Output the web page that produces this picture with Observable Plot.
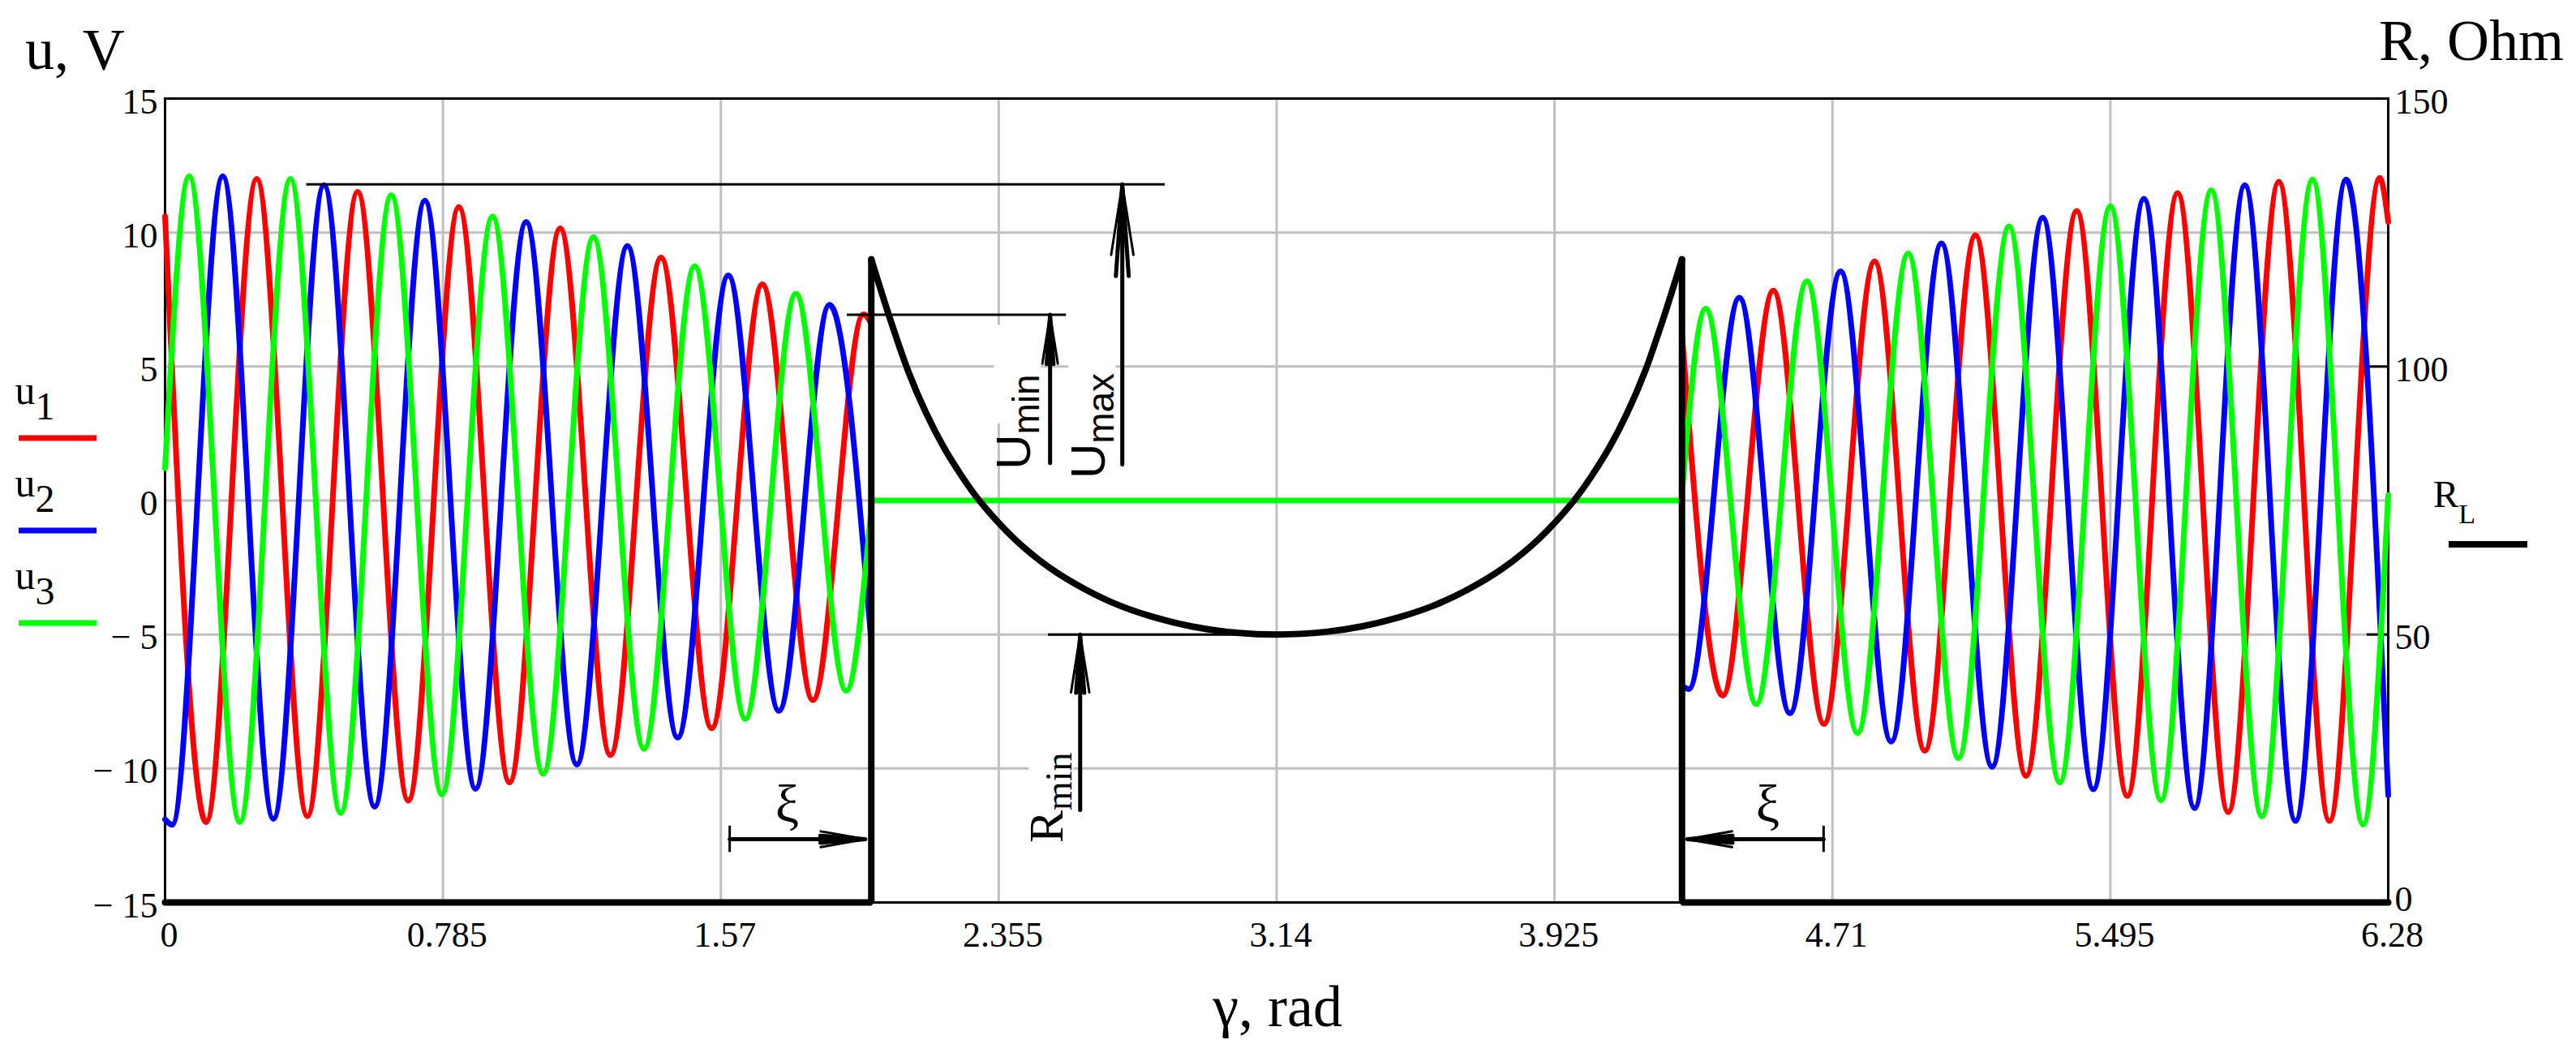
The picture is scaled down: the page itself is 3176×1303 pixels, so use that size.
<!DOCTYPE html>
<html>
<head>
<meta charset="utf-8">
<script src="https://cdn.jsdelivr.net/npm/d3@7"></script>
<script src="https://cdn.jsdelivr.net/npm/@observablehq/plot@0.6"></script>
<style>
  html, body { margin: 0; padding: 0; background: white; }
</style>
</head>
<body>
<div id="chart"></div>
<script>
// ---------- axis ticks ----------
const xTicks = [0, 0.785, 1.57, 2.355, 3.14, 3.925, 4.71, 5.495, 6.28];
const xTickLabels = ["0", "0.785", "1.57", "2.355", "3.14", "3.925", "4.71", "5.495", "6.28"];
const uTicks = [-15, -10, -5, 0, 5, 10, 15];
const uTickLabels = ["\u2212 15", "\u2212 10", "\u2212 5", "0", "5", "10", "15"];
const rTicks = [0, 50, 100, 150];
const rInnerTicks = [50, 100];

// ---------- u1 (red): extrema ----------
const redLeftG  = [0, 0.116, 0.259, 0.402, 0.544, 0.687, 0.830, 0.973, 1.116, 1.258, 1.401, 1.544, 1.687, 1.830, 1.973, 1.995];
const redLeftU  = [10.6, -12.0, 12.0, -11.78, 11.52, -11.2, 10.95, -10.52, 10.16, -9.5, 9.07, -8.5, 8.07, -7.45, 6.95, 6.6];
const redRightG = [4.285, 4.400, 4.543, 4.686, 4.829, 4.971, 5.114, 5.257, 5.400, 5.543, 5.685, 5.828, 5.971, 6.114, 6.256, 6.28];
const redRightU = [6.2, -7.28, 7.83, -8.34, 8.92, -9.34, 9.9, -10.28, 10.81, -11.03, 11.47, -11.63, 11.9, -11.96, 12.04, 10.4];

// ---------- u2 (blue) ----------
const blueLeftG  = [0, 0.020, 0.163, 0.306, 0.449, 0.592, 0.734, 0.877, 1.020, 1.163, 1.306, 1.448, 1.591, 1.734, 1.877, 1.995];
const blueLeftU  = [-11.9, -12.1, 12.1, -11.88, 11.77, -11.43, 11.19, -10.76, 10.4, -9.85, 9.5, -8.85, 8.4, -7.85, 7.3, -5.3];
const blueRightG = [4.285, 4.304, 4.447, 4.590, 4.733, 4.876, 5.018, 5.161, 5.304, 5.447, 5.590, 5.733, 5.875, 6.018, 6.161, 6.28];
const blueRightU = [-6.9, -7.04, 7.57, -7.94, 8.55, -9.0, 9.6, -9.94, 10.56, -10.78, 11.26, -11.48, 11.77, -11.96, 11.98, -11.0];

// ---------- u3 (green) ----------
const greenLeftG  = [0, 0.068, 0.211, 0.354, 0.496, 0.639, 0.782, 0.925, 1.068, 1.210, 1.353, 1.496, 1.639, 1.782, 1.924, 1.995];
const greenLeftU  = [1.2, 12.1, -12.0, 12.0, -11.66, 11.4, -10.97, 10.6, -10.2, 9.83, -9.27, 8.74, -8.15, 7.72, -7.1, -0.3];
const greenRightG = [4.285, 4.352, 4.495, 4.638, 4.781, 4.924, 5.066, 5.209, 5.352, 5.495, 5.638, 5.780, 5.923, 6.066, 6.209, 6.28];
const greenRightU = [0.3, 7.16, -7.6, 8.18, -8.68, 9.22, -9.61, 10.23, -10.52, 10.98, -11.19, 11.58, -11.79, 11.98, -12.09, 0.2];

// voltage is zero during the gap
const zeroG = [1.995, 4.285];
const zeroU = [0, 0];

// ---------- R_L (Ohm) ----------
const rLeftG  = [0, 1.995, 1.995];
const rLeftR  = [0, 0, 120];
const rRightG = [4.285, 4.285, 6.28];
const rRightR = [120, 0, 0];
const rCurveG = [1.995, 2.05, 2.10, 2.15, 2.20, 2.25, 2.30, 2.40, 2.50, 2.60, 2.70, 2.80, 2.90, 3.00, 3.14,
                 3.28, 3.38, 3.48, 3.58, 3.68, 3.78, 3.88, 3.98, 4.03, 4.08, 4.13, 4.18, 4.23, 4.285];
const rCurveR = [120, 108.5, 99.0, 91.3, 84.9, 79.6, 75.0, 67.8, 62.4, 58.4, 55.3, 53.1, 51.5, 50.5, 50,
                 50.5, 51.5, 53.1, 55.3, 58.4, 62.4, 67.8, 75.0, 79.6, 84.9, 91.3, 99.0, 108.5, 120];

// ---------- annotations (data units) ----------
const uMaxValue = [11.8];   const uMaxSpan = [0.40, 2.825];
const uMinValue = [6.93];   const uMinSpan = [1.927, 2.546];
const rMinValue = [50];     const rMinSpan = [2.495, 3.14];
const arrowG    = [2.704, 2.50, 2.585];       // Umax, Umin, Rmin arrows
const arrowFrom = [1.35, 1.4, -11.55];
const arrowTo   = [11.8, 6.93, -5.0];
const xiFrom  = [1.595, 4.685];
const xiTo    = [1.978, 4.300];
const xiLevel = -12.64;
const xiBarHalf = 0.49;
const xiTextG = [1.757, 4.527];
const xiTextU = -11.34;

// ---------- helpers ----------
const toU = r => r / 5 - 15;            // right axis (R, Ohm) onto the left axis (u, V)
const zip = (gs, us, seg) => gs.map((g, i) => ({g, u: us[i], seg}));

const redData   = [...zip(redLeftG, redLeftU, "L"), ...zip(redRightG, redRightU, "R")];
const blueData  = [...zip(blueLeftG, blueLeftU, "L"), ...zip(blueRightG, blueRightU, "R")];
const greenData = [...zip(greenLeftG, greenLeftU, "L"), ...zip(greenRightG, greenRightU, "R")];
const zeroData  = zip(zeroG, zeroU, "Z");
const rFlatData = [...zip(rLeftG, rLeftR.map(toU), "L"), ...zip(rRightG, rRightR.map(toU), "R")];
const rCurveData = zip(rCurveG, rCurveR.map(toU), "C");
const arrows = arrowG.map((g, i) => ({g, u1: arrowFrom[i], u2: arrowTo[i]}));
const xiArrows = xiFrom.map((g, i) => ({g1: g, g2: xiTo[i]}));

const SERIF = "'Liberation Serif','Times New Roman',serif";
const SANS = "'Liberation Sans',Arial,sans-serif";
const GRID = "#c0c0c0";
const rLabel = d => String(rTicks[rTicks.map(toU).indexOf(d)]);

const chart = Plot.plot({
  width: 3176,
  height: 1303,
  marginLeft: 203,
  marginRight: 232,
  marginTop: 121,
  marginBottom: 191,
  x: {domain: [0, 6.28], label: null},
  y: {domain: [-15, 15], label: null},
  style: {fontFamily: SERIF, fontSize: "44px", background: "white", overflow: "visible", color: "black"},
  marks: [
    Plot.ruleX(xTicks, {stroke: GRID, strokeWidth: 3}),
    Plot.ruleY(uTicks, {stroke: GRID, strokeWidth: 3}),
    Plot.frame({stroke: "black", strokeWidth: 3}),
    Plot.axisX({ticks: xTicks, tickFormat: d => xTickLabels[xTicks.indexOf(d)], tickSize: 0, tickPadding: 23, dx: 5, label: null}),
    Plot.axisY({ticks: uTicks, tickFormat: d => uTickLabels[uTicks.indexOf(d)], tickSize: 0, tickPadding: 9, dy: 4, label: null}),
    Plot.axisY({anchor: "right", ticks: rTicks.slice(1).map(toU), tickFormat: rLabel, tickSize: 0, tickPadding: 8, dy: 4, label: null}),
    Plot.axisY({anchor: "right", ticks: rTicks.slice(0, 1).map(toU), tickFormat: rLabel, tickSize: 0, tickPadding: 8, dy: -4, label: null}),
    Plot.ruleY(rInnerTicks.map(toU), {x1: 6.22, x2: 6.28, stroke: "black", strokeWidth: 3}),
    // phase voltages
    Plot.line(redData,   {x: "g", y: "u", z: "seg", stroke: "#ff0000", strokeWidth: 7, curve: "monotone-x"}),
    Plot.line(blueData,  {x: "g", y: "u", z: "seg", stroke: "#0000ff", strokeWidth: 7, curve: "monotone-x"}),
    Plot.line(greenData, {x: "g", y: "u", z: "seg", stroke: "#00ff00", strokeWidth: 7, curve: "monotone-x"}),
    Plot.line(zeroData,  {x: "g", y: "u", stroke: "#00ff00", strokeWidth: 7}),
    // load resistance
    Plot.line(rFlatData,  {x: "g", y: "u", z: "seg", stroke: "black", strokeWidth: 8, strokeLinejoin: "miter"}),
    Plot.line(rCurveData, {x: "g", y: "u", stroke: "black", strokeWidth: 8, curve: "catmull-rom"}),
    // dimension lines
    Plot.ruleY(uMaxValue, {x1: uMaxSpan[0], x2: uMaxSpan[1], stroke: "black", strokeWidth: 3}),
    Plot.ruleY(uMinValue, {x1: uMinSpan[0], x2: uMinSpan[1], stroke: "black", strokeWidth: 3}),
    Plot.ruleY(rMinValue.map(toU), {x1: rMinSpan[0], x2: rMinSpan[1], stroke: "black", strokeWidth: 3}),
    Plot.arrow(arrows, {x1: "g", x2: "g", y1: "u1", y2: "u2", stroke: "black", strokeWidth: 3, headLength: 44, headAngle: 18}),
    Plot.arrow(arrows, {x1: "g", x2: "g", y1: "u1", y2: "u2", stroke: "black", strokeWidth: 5, headLength: 34, headAngle: 8}),
    Plot.arrow(xiArrows, {x1: "g1", x2: "g2", y1: xiLevel, y2: xiLevel, stroke: "black", strokeWidth: 3, headLength: 40, headAngle: 20}),
    Plot.arrow(xiArrows, {x1: "g1", x2: "g2", y1: xiLevel, y2: xiLevel, stroke: "black", strokeWidth: 5, headLength: 30, headAngle: 9}),
    Plot.ruleX(xiFrom, {y1: xiLevel - xiBarHalf, y2: xiLevel + xiBarHalf, stroke: "black", strokeWidth: 3}),
    Plot.text(xiTextG, {x: d => d, y: xiTextU, text: () => "\u03BE", fontSize: 66, fontFamily: SERIF, textAnchor: "middle", lineAnchor: "middle", fill: "black"})
  ]
});

document.getElementById("chart").appendChild(chart);

// ---------- texts around the frame ----------
const svg = d3.select(chart);
const sx = chart.scale("x"), sy = chart.scale("y");

function plainText(x, y, str, size, family, anchor = "start") {
  return svg.append("text").attr("x", x).attr("y", y).attr("font-size", size)
    .attr("font-family", family).attr("text-anchor", anchor).attr("fill", "black").text(str);
}
function subText(x, y, main, sub, size, subSize, shift, family) {
  const t = svg.append("text").attr("x", x).attr("y", y).attr("font-family", family).attr("fill", "black");
  t.append("tspan").attr("font-size", size).text(main);
  t.append("tspan").attr("font-size", subSize).attr("dy", shift).text(sub);
  return t;
}

plainText(31, 85, "u, V", 72, SERIF);
plainText(2933, 74, "R, Ohm", 72, SERIF);
plainText(1575, 1265, "\u03B3, rad", 72, SERIF, "middle");

// legend (left)
const legendNames = ["1", "2", "3"];
const legendColors = ["#ff0000", "#0000ff", "#00ff00"];
legendNames.forEach((n, i) => {
  const base = 498 + i * 114;
  subText(43, base, "u", n, 50, 48, 19, SERIF);
  svg.append("line").attr("x1", 23).attr("x2", 119).attr("y1", base + 42).attr("y2", base + 42)
    .attr("stroke", legendColors[i]).attr("stroke-width", 7);
});
// legend (right)
subText(3026, 625, "R", "L", 47, 34, 20, SERIF);
svg.append("line").attr("x1", 3019).attr("x2", 3116).attr("y1", 671).attr("y2", 671)
  .attr("stroke", "black").attr("stroke-width", 8);

// rotated dimension labels
const rotLabels = [
  {g: 2.656, u: 2.77, main: "U", sub: "max", family: SANS, cap: 44},
  {g: 2.445, u: 2.92, main: "U", sub: "min", family: SANS, cap: 44},
  {g: 2.537, u: -11.1, main: "R", sub: "min", family: SERIF, cap: 41}
];
rotLabels.forEach(d => {
  const g = svg.append("g").attr("transform", `translate(${sx.apply(d.g)},${sy.apply(d.u)}) rotate(-90)`);
  const rect = g.append("rect").attr("fill", "white");
  const t = g.append("text").attr("x", 0).attr("y", 0).attr("font-family", d.family).attr("fill", "black");
  t.append("tspan").attr("font-size", 60).text(d.main);
  t.append("tspan").attr("font-size", 46).attr("dy", 11).text(d.sub);
  const len = t.node().getComputedTextLength();
  rect.attr("x", -2).attr("y", -d.cap - 1).attr("width", len + 4).attr("height", d.cap + 14);
});
</script>
</body>
</html>
